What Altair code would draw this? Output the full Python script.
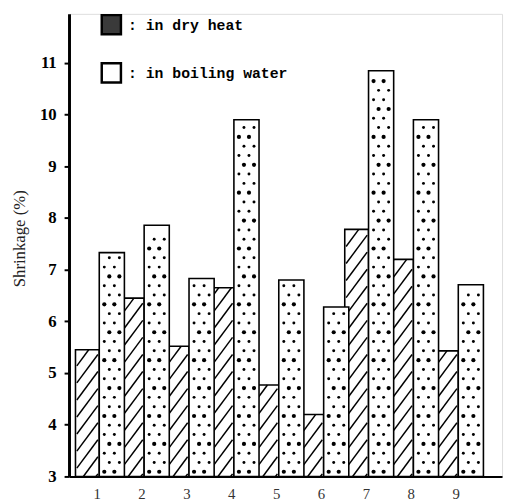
import altair as alt
import pandas as pd

# ---- data ----
groups = [1, 2, 3, 4, 5, 6, 7, 8, 9]
dry_heat = [5.45, 6.45, 5.52, 6.65, 4.77, 4.2, 7.78, 7.2, 5.43]
boiling_water = [7.33, 7.86, 6.83, 9.9, 6.8, 6.28, 10.85, 9.9, 6.71]
series_names = ["in dry heat", "in boiling water"]
y_ticks = [3, 4, 5, 6, 7, 8, 9, 10, 11]

rows = []
for g, d, b in zip(groups, dry_heat, boiling_water):
    rows.append({"group": g, "type": series_names[0], "value": d})
    rows.append({"group": g, "type": series_names[1], "value": b})
df = pd.DataFrame(rows)

SERIF = "Liberation Serif"
xscale = alt.Scale(domain=[0.386, 10.035], nice=False, zero=False)
yscale = alt.Scale(domain=[3, 11.95], nice=False, zero=False)

left_expr = "datum.type == 'in dry heat' ? datum.group - 0.47 : datum.group + 0.06"
right_expr = "datum.type == 'in dry heat' ? datum.group + 0.06 : datum.group + 0.62"

base = alt.Chart(df).transform_calculate(xl=left_expr, xr=right_expr)

x_axis = alt.Axis(values=groups, format="d", title=None, grid=False, ticks=False,
                  labelFont=SERIF, labelFontSize=15, labelColor="#333",
                  labelPadding=10, domainColor="black", domainWidth=2)
y_axis = alt.Axis(values=y_ticks, format="d", title="Shrinkage (%)", grid=False,
                  tickSize=5, tickWidth=2, tickColor="black",
                  labelFont=SERIF, labelFontSize=17, labelFontWeight="bold",
                  labelColor="black", labelPadding=8,
                  domainColor="black", domainWidth=3,
                  titleFont=SERIF, titleFontSize=17, titleFontWeight="normal",
                  titleColor="#222", titleX=-50, titleY=228, titleAngle=270,
                  titleBaseline="middle", titleAlign="center")

dry_bars = base.transform_filter("datum.type == 'in dry heat'").mark_bar(
    fill="white", stroke="black", strokeWidth=1.6
).encode(
    x=alt.X("xl:Q", scale=xscale, axis=x_axis),
    x2="xr:Q",
    y=alt.Y("value:Q", scale=yscale, axis=y_axis),
    y2=alt.datum(3),
)

# diagonal hatching inside the dry-heat bars
RISE, W = 0.55, 0.53
hatch = (
    base.transform_filter("datum.type == 'in dry heat'")
    .transform_calculate(k="sequence(0, 40)")
    .transform_flatten(["k"])
    .transform_calculate(y0="3 + datum.k * 0.33 - 0.5")
    .transform_calculate(y1=f"datum.y0 + {RISE}")
    .transform_filter("datum.y0 < datum.value - 0.05 && datum.y1 > 3")
    .transform_calculate(
        xa=f"datum.xl + 0.03 + max(0, 3 - datum.y0) / {RISE} * {W - 0.06}",
        ya="max(datum.y0, 3)",
        xb=f"datum.xl + 0.03 + min({RISE}, datum.value - datum.y0) / {RISE} * {W - 0.06}",
        yb="min(datum.y1, datum.value)",
    )
    .mark_rule(color="black", strokeWidth=1.5)
    .encode(x=alt.X("xa:Q", scale=xscale), x2="xb:Q",
            y=alt.Y("ya:Q", scale=yscale), y2="yb:Q")
)

boil_bars = base.transform_filter("datum.type == 'in boiling water'").mark_bar(
    fill="white", stroke="black", strokeWidth=1.6
).encode(
    x=alt.X("xl:Q", scale=xscale),
    x2="xr:Q",
    y=alt.Y("value:Q", scale=yscale),
    y2=alt.datum(3),
)

# dot texture inside the boiling-water bars
dots = (
    base.transform_filter("datum.type == 'in boiling water'")
    .transform_calculate(k="sequence(0, 60)")
    .transform_flatten(["k"])
    .transform_calculate(j="sequence(0, 2)")
    .transform_flatten(["j"])
    .transform_calculate(
        px="datum.xl + (datum.xr - datum.xl) * (datum.j + 0.5 + (datum.k % 2) * 0.5) / 2.5",
        py="3 + (datum.k + 0.5) * 0.18",
        sz="datum.k % 3 == 0 ? 18 : 9",
    )
    .transform_filter("datum.py < datum.value - 0.1")
    .mark_circle(color="black", opacity=1)
    .encode(x=alt.X("px:Q", scale=xscale), y=alt.Y("py:Q", scale=yscale),
            size=alt.Size("sz:Q", scale=None, legend=None))
)

legend_layer = base.mark_square(opacity=0).encode(
    x=alt.X("xl:Q", scale=xscale),
    y=alt.Y("value:Q", scale=yscale),
    fill=alt.Fill(
        "type:N",
        scale=alt.Scale(domain=series_names, range=["#3a3a3a", "white"]),
        legend=alt.Legend(
            orient="none", legendX=32, legendY=0, title=None,
            symbolType="square", symbolSize=380, symbolOpacity=1,
            symbolStrokeColor="black", symbolStrokeWidth=2.5,
            labelFont="Liberation Mono", labelFontSize=15, labelFontWeight="bold",
            labelColor="black", labelOffset=6, rowPadding=19, padding=0,
            labelLimit=400,
            labelExpr="': ' + datum.label",
        ),
    ),
)

chart = alt.layer(dry_bars, hatch, boil_bars, dots, legend_layer).properties(
    width=440, height=470,
    autosize=alt.AutoSizeParams(type="none"),
    padding={"left": 62, "top": 2, "right": 3, "bottom": 22},
).configure_view(stroke=None).configure(background="white")

chart.save("out.html", embed_options={"renderer": "svg", "actions": False})
